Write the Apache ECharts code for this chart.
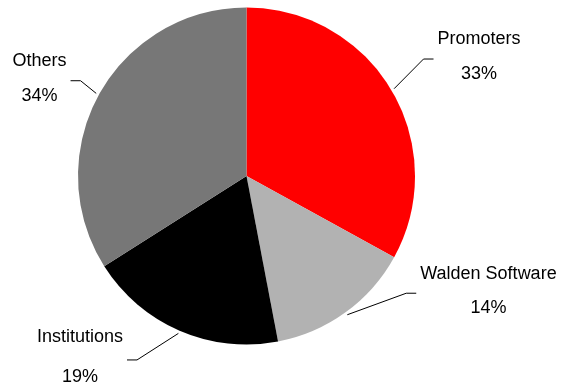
<!DOCTYPE html>
<html><head><meta charset="utf-8">
<script src="https://cdn.jsdelivr.net/npm/echarts@6/dist/echarts.min.js"></script>
<style>html,body{margin:0;padding:0;background:#fff}#c{width:561px;height:388px}</style>
</head><body><div id="c"></div>
<script>
const categories = ['Promoters', 'Walden Software', 'Institutions', 'Others'];
const shares = [33, 14, 19, 34];

const colors = ['#ff0000', '#b2b2b2', '#000000', '#777777'];
// label centre offset from the slice's label anchor (styling)
const labelOffsets = [[87.5, -33.7], [142.9, -21.6], [-99.6, 26.8], [-59.3, -16.6]];
const labelLineHeights = [35, 34, 40, 35];

const chart = echarts.init(document.getElementById('c'), null, {renderer: 'canvas'});
chart.setOption({
  animation: false,
  series: [{
    type: 'pie',
    center: [246.5, 176],
    radius: 168.5,
    startAngle: 90,
    clockwise: true,
    avoidLabelOverlap: false,
    data: categories.map((n, i) => ({
      name: n, value: shares[i],
      itemStyle: {color: colors[i]},
      label: {lineHeight: labelLineHeights[i]}
    })),
    itemStyle: {borderWidth: 0},
    label: {
      show: true,
      position: 'outside',
      formatter: '{b}\n{d}%',
      fontFamily: 'Liberation Sans, Arial, sans-serif',
      fontSize: 18,
      color: '#000',
      lineHeight: 35
    },
    labelLine: {show: true, length: 20, length2: 10, lineStyle: {color: '#000', width: 1}},
    emphasis: {disabled: true},
    labelLayout: function (p) {
      const i = p.dataIndex;
      const a = p.labelLinePoints[0], b = p.labelLinePoints[1];
      let ux = b[0] - a[0], uy = b[1] - a[1];
      const ul = Math.hypot(ux, uy) || 1; ux /= ul; uy /= ul;
      const start = [a[0] + ux * 3, a[1] + uy * 3];
      const cx = a[0] + labelOffsets[i][0];
      const cy = a[1] + labelOffsets[i][1];
      const side = labelOffsets[i][0] > 0 ? 1 : -1;
      const w = p.labelRect.width;
      const endX = cx - side * (w / 2 + 4);
      const endY = cy + 2.5;
      const bendX = endX - side * 10;
      return {
        x: cx, y: cy, align: 'center', verticalAlign: 'middle',
        labelLinePoints: [start, [bendX, endY], [endX, endY]]
      };
    }
  }]
});
</script></body></html>
